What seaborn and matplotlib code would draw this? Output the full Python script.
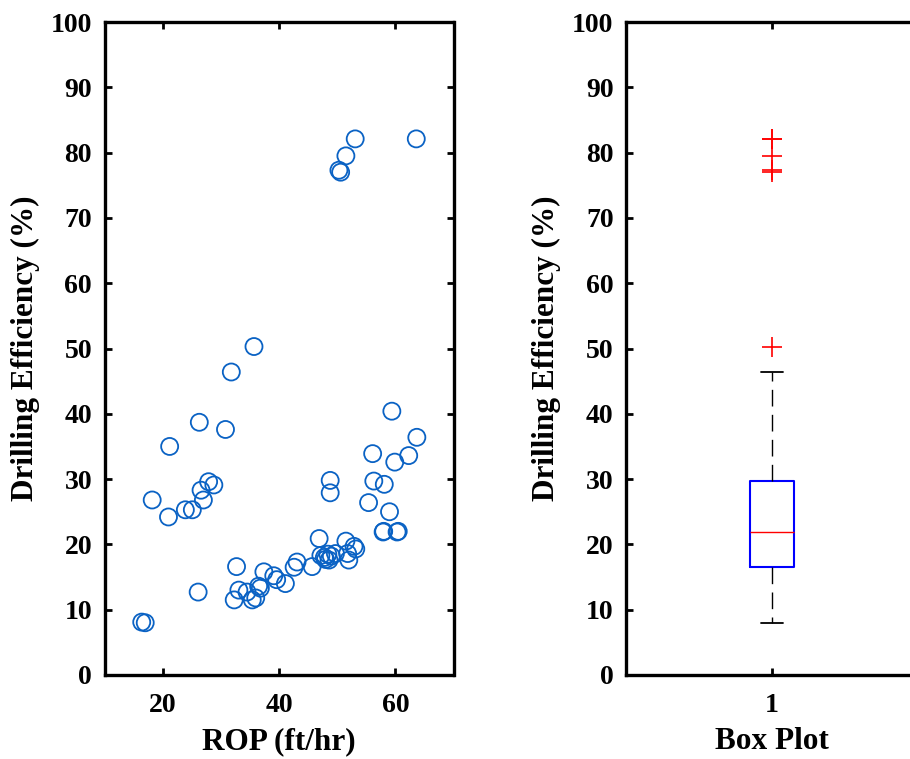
import numpy as np
import pandas as pd
import matplotlib
matplotlib.use("Agg")
import matplotlib.pyplot as plt
import seaborn as sns

# ---- data ----
rop = [53.1, 63.6, 51.5, 50.3, 50.6, 35.7, 31.8, 59.4, 63.7, 26.3,
       30.8, 21.2, 56.1, 62.3, 59.9, 48.8, 48.8, 56.3, 58.1, 27.9,
       28.8, 26.6, 27.0, 18.2, 55.4, 23.9, 25.1, 21.0, 59.0, 57.9,
       60.3, 60.5, 46.9, 51.5, 52.9, 53.2, 51.8, 52.0, 47.2, 47.8,
       48.4, 48.0, 49.0, 49.7, 48.6, 45.7, 43.1, 42.6, 32.7, 37.4,
       39.1, 39.6, 41.1, 36.5, 36.8, 33.1, 34.5, 26.1, 32.3, 35.4,
       36.0, 16.4, 17.0, 58.0]
efficiency = [82.1, 82.1, 79.5, 77.3, 77.0, 50.3, 46.4, 40.4, 36.4, 38.7,
              37.6, 35.0, 33.9, 33.6, 32.6, 29.8, 27.9, 29.7, 29.2, 29.6,
              29.1, 28.3, 26.8, 26.8, 26.4, 25.3, 25.3, 24.2, 25.0, 21.9,
              21.9, 22.0, 20.9, 20.5, 19.7, 19.3, 18.6, 17.6, 18.3, 18.0,
              18.5, 17.7, 18.2, 18.6, 17.6, 16.6, 17.3, 16.5, 16.6, 15.8,
              15.2, 14.6, 14.0, 13.6, 13.3, 13.0, 12.7, 12.7, 11.5, 11.5,
              11.8, 8.1, 8.0, 22.0]
box_group = ["1"] * len(efficiency)
y_ticks = list(range(0, 101, 10))
x_ticks = [20, 40, 60]

df = pd.DataFrame({"ROP": rop, "Eff": efficiency, "grp": box_group})

sns.set_style("white")
plt.rcParams["font.family"] = ["Liberation Serif", "DejaVu Serif"]
plt.rcParams["font.weight"] = "bold"
plt.rcParams["text.color"] = "black"
plt.rcParams["axes.labelcolor"] = "black"

fig = plt.figure(figsize=(9.10, 7.59), dpi=100)
W, H = 910, 759
ax1 = fig.add_axes([104.5 / W, (H - 675) / H, 349 / W, 653 / H])
ax2 = fig.add_axes([626 / W, (H - 675) / H, 292 / W, 653 / H])

tick_fs = 20
lab_fs = 22.5

# scatter
sns.scatterplot(data=df, x="ROP", y="Eff", ax=ax1, marker="o", s=150,
                facecolors="none", edgecolor="#0a62c4", linewidth=1.3,
                legend=False)
ax1.set_xlim(10, 70)
ax1.set_ylim(0, 100)
ax1.set_xticks(x_ticks)
ax1.set_yticks(y_ticks)
ax1.set_xlabel("ROP (ft/hr)", fontsize=lab_fs, fontweight="bold", color="black")
ax1.set_ylabel("Drilling Efficiency (%)", fontsize=lab_fs, fontweight="bold", color="black")

# box plot
sns.boxplot(data=df, x="grp", y="Eff", ax=ax2, width=0.15, fill=False,
            whis=1.5, linecolor="blue", linewidth=1.5, fliersize=14,
            boxprops=dict(color="blue", linewidth=1.5),
            whiskerprops=dict(color="black", linestyle=(0, (12, 6)), linewidth=1.0),
            capprops=dict(color="black", linewidth=1.3),
            medianprops=dict(color="red", linewidth=1.0),
            flierprops=dict(marker="+", markeredgecolor="red",
                            markerfacecolor="red", markersize=14,
                            markeredgewidth=1.2))
ax2.set_xlim(-0.5, 0.5)
ax2.set_ylim(0, 100)
ax2.set_yticks(y_ticks)
ax2.set_xlabel("Box Plot", fontsize=lab_fs, fontweight="bold", color="black")
ax2.set_ylabel("Drilling Efficiency (%)", fontsize=lab_fs, fontweight="bold", color="black")

for ax in (ax1, ax2):
    for sp in ax.spines.values():
        sp.set_visible(True)
        sp.set_color("black")
        sp.set_linewidth(2.4)
    ax.tick_params(axis="both", which="both", direction="in", length=5,
                   width=2, top=True, right=True, bottom=True, left=True,
                   labelsize=tick_fs, colors="black")
    ax.tick_params(axis="x", pad=13)
    ax.tick_params(axis="y", pad=9)
    for lbl in ax.get_xticklabels() + ax.get_yticklabels():
        lbl.set_fontweight("bold")
    ax.xaxis.set_label_coords(0.5, -0.08)
    ax.grid(False)

ax1.yaxis.set_label_coords(-0.185, 0.5)
ax2.yaxis.set_label_coords(-0.222, 0.5)

fig.savefig("out.png", dpi=100)
